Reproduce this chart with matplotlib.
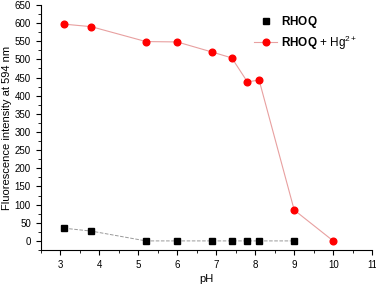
import matplotlib.pyplot as plt
from matplotlib.ticker import MultipleLocator

plt.rcParams['font.family'] = ['Liberation Sans', 'DejaVu Sans']
plt.rcParams['mathtext.fontset'] = 'custom'
plt.rcParams['mathtext.rm'] = 'Liberation Sans'
plt.rcParams['mathtext.bf'] = 'Liberation Sans:bold'

ph = [3.1, 3.8, 5.2, 6.0, 6.9, 7.4, 7.8, 8.1, 9.0]
rhoq = [35, 27, 0, 0, 0, 0, 0, 0, 0]
ph_hg = [3.1, 3.8, 5.2, 6.0, 6.9, 7.4, 7.8, 8.1, 9.0, 10.0]
rhoq_hg = [597, 590, 549, 548, 520, 504, 438, 443, 85, 0]

fig = plt.figure(figsize=(3.76, 2.88), dpi=100)
ax = fig.add_axes([0.108, 0.132, 0.882, 0.851])

ax.plot(ph, rhoq, color='#999999', ls='--', lw=0.7)
ax.plot(ph, rhoq, 's', color='black', ms=3.8, label=r'$\bf{RHOQ}$')
ax.plot(ph_hg, rhoq_hg, '-o', color='#e8a0a0', lw=0.8,
        mfc='red', mec='red', ms=4.8, label=r'$\bf{RHOQ}$ + Hg$^{2+}$')

ax.set_xlim(2.5, 11)
ax.set_ylim(-25, 650)
ax.xaxis.set_major_locator(MultipleLocator(1))
ax.xaxis.set_minor_locator(MultipleLocator(0.5))
ax.yaxis.set_major_locator(MultipleLocator(50))
ax.yaxis.set_minor_locator(MultipleLocator(25))
ax.tick_params(which='both', direction='out', labelsize=7)
ax.tick_params(which='major', length=3.5)
ax.tick_params(which='minor', length=2)
ax.spines['top'].set_visible(False)
ax.spines['right'].set_visible(False)

ax.set_xlabel('pH', fontsize=8, labelpad=3)
ax.set_ylabel('Fluorescence intensity at 594 nm', fontsize=8, labelpad=2)
ax.legend(loc='upper right', bbox_to_anchor=(0.98, 0.995), frameon=False,
          fontsize=8.5, handlelength=2.0, handletextpad=0.3,
          labelspacing=0.25, borderaxespad=0.3)

fig.savefig('out.png', dpi=100)
